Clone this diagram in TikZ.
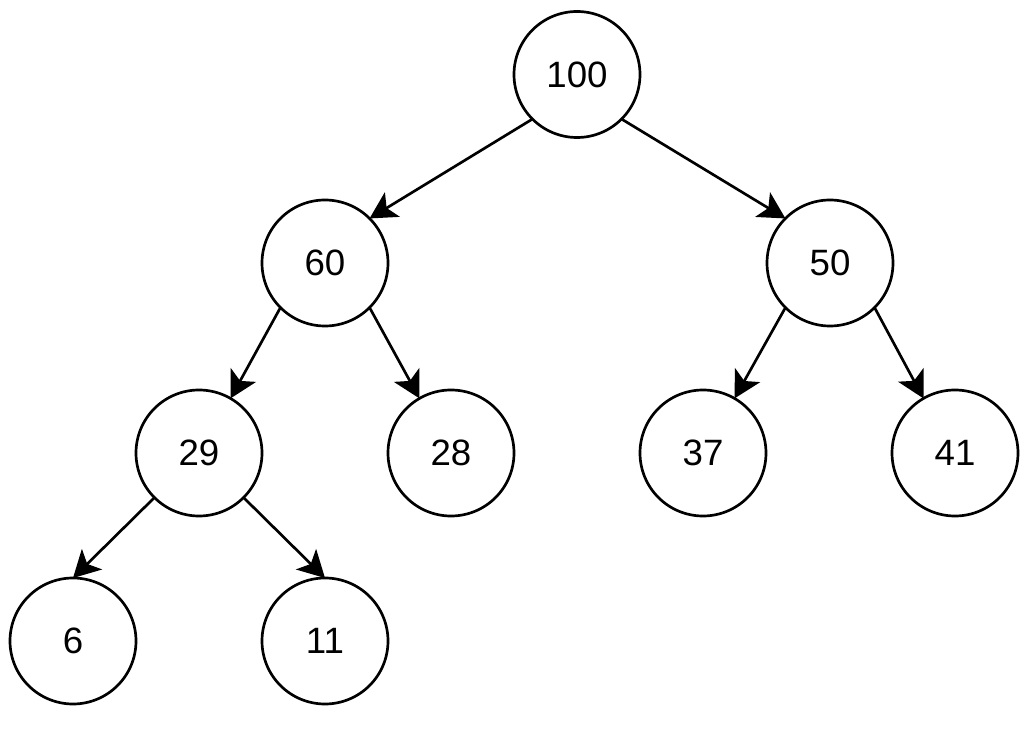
\documentclass[tikz,border=0pt]{standalone}
\usepackage{fontspec}
\setmainfont{Liberation Sans}
\usetikzlibrary{arrows.meta}
\begin{document}
\begin{tikzpicture}[x=0.75pt,y=-0.75pt,
  treenode/.style={circle,draw=black,line width=2pt,minimum size=94.5pt,inner sep=0pt,outer sep=0pt,font=\fontsize{27.5}{33}\selectfont},
  edge/.style={line width=2pt,-{Stealth[length=20pt,width=21.5pt,inset=5pt]}}]
\useasboundingbox (0,0) rectangle (1032,730);
\node[treenode] (n100) at (577,74.5) {100};
\node[treenode] (n60) at (325,263) {60};
\node[treenode] (n50) at (830,263) {50};
\node[treenode] (n29) at (199,453) {29};
\node[treenode] (n28) at (451,453) {28};
\node[treenode] (n37) at (703,453) {37};
\node[treenode] (n41) at (955,453) {41};
\node[treenode] (n6) at (73,641) {6};
\node[treenode] (n11) at (325,641) {11};
\draw[edge] (n100.225) -- (n60.45);
\draw[edge] (n100.-45) -- (n50.135);
\draw[edge] (n60.225) -- (n29.60);
\draw[edge] (n60.-45) -- (n28.120);
\draw[edge] (n50.225) -- (n37.60);
\draw[edge] (n50.-45) -- (n41.120);
\draw[edge] (n29.225) -- (n6.90);
\draw[edge] (n29.-45) -- (n11.90);
\end{tikzpicture}
\end{document}
